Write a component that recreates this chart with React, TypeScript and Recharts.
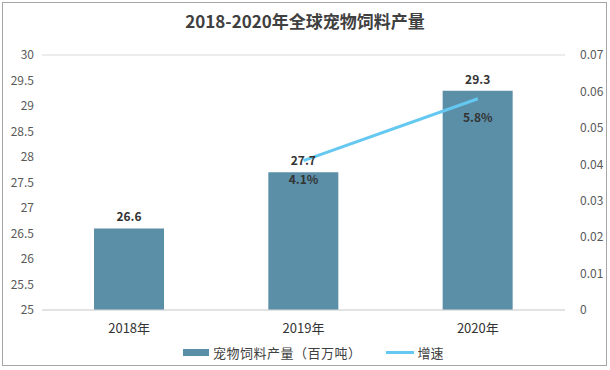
import React from 'react';
import { ComposedChart, Bar, Line, XAxis, YAxis, CartesianGrid, LabelList } from 'recharts';

const categories = ['2018年', '2019年', '2020年'];
const production = [26.6, 27.7, 29.3];
const growth: (number | null)[] = [null, 0.041, 0.058];
const leftTicks = [25, 25.5, 26, 26.5, 27, 27.5, 28, 28.5, 29, 29.5, 30];
const rightTicks = [0, 0.01, 0.02, 0.03, 0.04, 0.05, 0.06, 0.07];
const barName = '宠物饲料产量（百万吨）';
const lineName = '增速';
const title = '2018-2020年全球宠物饲料产量';

const data = categories.map((c, i) => ({ name: c, prod: production[i], growth: growth[i] }));

const FONT = '"Noto Sans CJK SC", "Noto Sans", sans-serif';
const BAR_COLOR = '#5B8FA8';
const LINE_COLOR = '#64C8F0';

export default function App() {
  return (
    <div style={{ position: 'absolute', left: 0, top: 0, width: 610, height: 370, background: '#fff' }}>
      <div style={{ position: 'absolute', left: 2, top: 2, width: 603, height: 362, border: '1px solid #A6A6A6' }} />
      <div style={{ position: 'absolute', left: 0, top: 8, width: 610, textAlign: 'center', fontFamily: FONT, fontWeight: 700, fontSize: 17, color: '#404040' }}>{title}</div>
      <div style={{ position: 'absolute', left: 0, top: 0 }}>
        <ComposedChart width={610} height={370} data={data} margin={{ top: 55, right: 5, left: 2, bottom: 35 }}>
          <CartesianGrid vertical={false} stroke="#D9D9D9" />
          <XAxis dataKey="name" axisLine={{ stroke: '#D9D9D9' }} tickLine={false} height={25}
            tick={{ fontSize: 13, fill: '#333', fontFamily: FONT }} tickMargin={8} />
          <YAxis yAxisId="left" domain={[25, 30]} ticks={leftTicks} allowDataOverflow width={40}
            axisLine={false} tickLine={false} tick={{ fontSize: 12, fill: '#595959', fontFamily: FONT }} />
          <YAxis yAxisId="right" orientation="right" domain={[0, 0.07]} ticks={rightTicks} width={40}
            axisLine={false} tickLine={false} tick={{ fontSize: 12, fill: '#595959', fontFamily: FONT, dx: 7 } as any} />
          <Bar yAxisId="left" dataKey="prod" name={barName} fill={BAR_COLOR} barSize={70} isAnimationActive={false}>
            <LabelList dataKey="prod" position="top" offset={7}
              style={{ fontSize: 12, fontWeight: 700, fill: '#333', fontFamily: FONT }} />
          </Bar>
          <Line yAxisId="right" dataKey="growth" name={lineName} stroke={LINE_COLOR} strokeWidth={3} dot={false}
            connectNulls isAnimationActive={false}>
            <LabelList dataKey="growth" position="bottom" offset={15}
              formatter={(v: any) => (v == null ? '' : (v * 100).toFixed(1) + '%')}
              style={{ fontSize: 12, fontWeight: 700, fill: '#333', fontFamily: FONT }} />
          </Line>
        </ComposedChart>
      </div>
      <div style={{ position: 'absolute', left: 183, top: 343, display: 'flex', alignItems: 'center', fontFamily: FONT, fontSize: 13, color: '#404040', whiteSpace: 'nowrap' }}>
        <span style={{ display: 'inline-block', width: 26, height: 7, background: BAR_COLOR, marginRight: 4 }} />
        <span style={{ letterSpacing: 0.5, marginRight: 24 }}>{barName}</span>
        <span style={{ display: 'inline-block', width: 28, height: 3, background: LINE_COLOR, marginRight: 4 }} />
        <span>{lineName}</span>
      </div>
    </div>
  );
}
